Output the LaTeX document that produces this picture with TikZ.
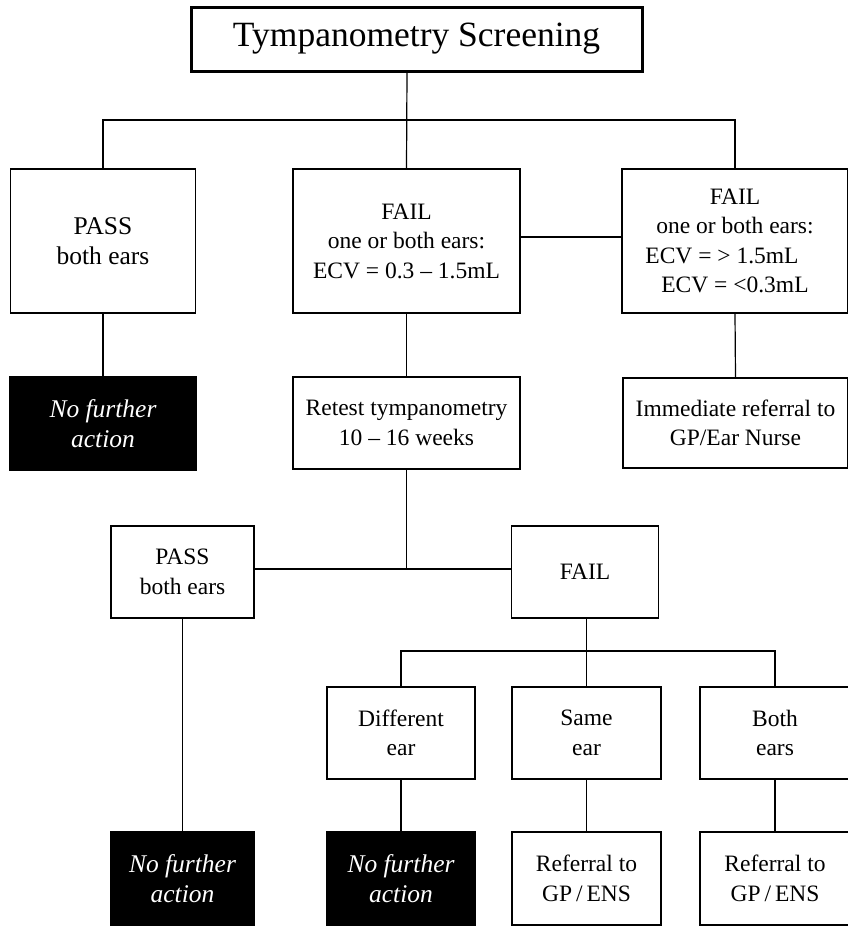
\documentclass[tikz,border=0pt]{standalone}
\usepackage{fontspec}
\setmainfont{Liberation Serif}
\begin{document}
\begin{tikzpicture}[x=1pt,y=-1pt,
  sz/.style 2 args={minimum width=#1pt, minimum height=#2pt},
  box/.style={draw, line width=1.4pt, fill=white, align=center, inner sep=0pt,
    font=\fontsize{23.5}{29.5}\selectfont},
  bigtext/.style={font=\fontsize{25.5}{29.5}\selectfont},
  stopbox/.style={box, fill=black, text=white,
    font=\fontsize{25.5}{30}\selectfont\itshape},
  headbox/.style={draw, line width=3pt, fill=white, inner sep=0pt,
    font=\fontsize{35.5}{40}\selectfont},
  wire/.style={line width=1.2pt},
]
\useasboundingbox (0,0) rectangle (847,926);

% heading
\node[headbox, sz={451}{64}] (title) at (416.5,39) {Tympanometry Screening};

% first screening outcomes
\node[box, bigtext, sz={185}{144}] (pass1) at (103,241) {PASS\\both ears};
\node[box, sz={227}{144}] (fail1) at (406.5,241) {FAIL\\one or both ears:\\ECV = 0.3 – 1.5mL};
\node[box, sz={226}{144}] (failx) at (735,241)
  {FAIL\\one or both ears:\\ECV = > 1.5mL\rule{26pt}{0pt}\\ECV = <0.3mL};

% actions after the first screening
\node[stopbox, sz={186}{93}] (stop1) at (103,423.5) {No further\\action};
\node[box, sz={227}{92}] (retest) at (406.5,423) {Retest tympanometry\\10 – 16 weeks};
\node[box, sz={225}{90}] (refer1) at (735.5,423) {Immediate referral to\\GP/Ear Nurse};

% retest outcomes
\node[box, sz={143}{92}] (pass2) at (182.5,572) {PASS\\both ears};
\node[box, sz={147}{92}] (fail2) at (585,572) {FAIL};

% which ear failed
\node[box, sz={148}{92}] (diff) at (401,733) {Different\\ear};
\node[box, sz={149}{92}] (same) at (586.5,733) {Same\\ear};
\node[box, sz={150}{92}] (both) at (775,733) {Both\\ears};

% final actions
\node[stopbox, sz={143}{93}] (stop2) at (182.5,878.5) {No further\\action};
\node[stopbox, sz={148}{93}] (stop3) at (401,878.5) {No further\\action};
\node[box, sz={149}{93}] (refer2) at (586.5,878.5) {Referral to\\GP\,/\,ENS};
\node[box, sz={150}{93}] (refer3) at (775,878.5) {Referral to\\GP\,/\,ENS};

% junction points
\coordinate (top) at (407,120);
\coordinate (mid) at (406.5,569);
\coordinate (low) at (586.5,651);

% connectors
\draw[wire] (title.south -| top) -- (fail1.north);
\draw[wire] (pass1.north) |- (top) -| (failx.north);
\draw[wire] ([yshift=4pt]fail1.east) -- ([yshift=4pt]failx.west);
\draw[wire] (pass1.south) -- (stop1.north);
\draw[wire] (fail1.south) -- (retest.north);
\draw[wire] (failx.south) -- (refer1.north);
\draw[wire] (retest.south) -- (mid);
\draw[wire] (pass2.east |- mid) -- (fail2.west |- mid);
\draw[wire] (fail2.south -| low) -- (same.north);
\draw[wire] (diff.north) |- (low) -| (both.north);
\draw[wire] (pass2.south) -- (stop2.north);
\draw[wire] (diff.south) -- (stop3.north);
\draw[wire] (same.south) -- (refer2.north);
\draw[wire] (both.south) -- (refer3.north);
\end{tikzpicture}
\end{document}
